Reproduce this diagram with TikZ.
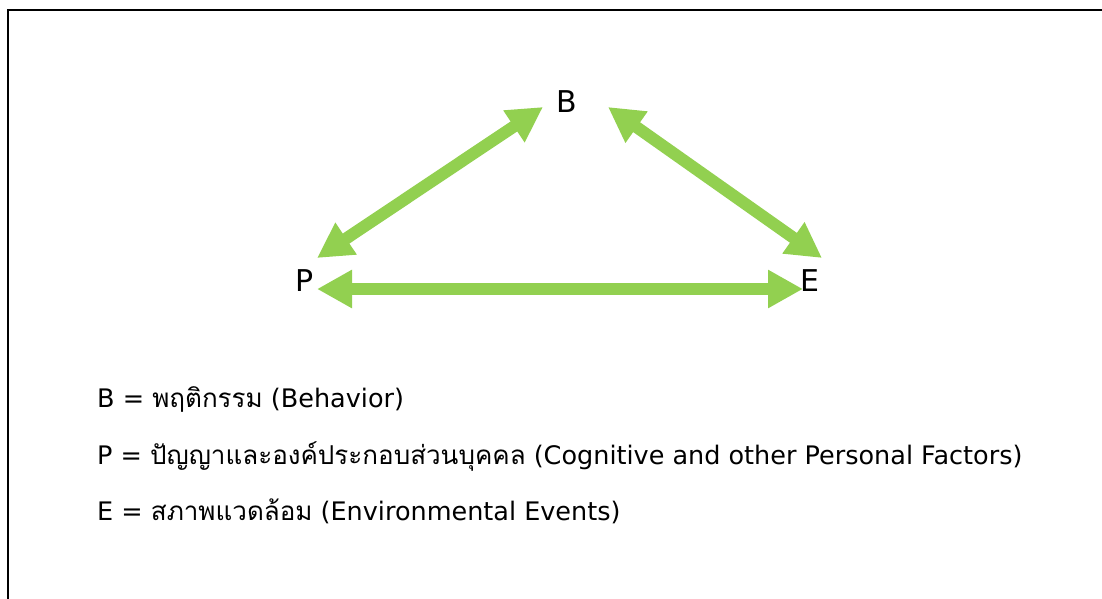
\documentclass[tikz,border=0pt]{standalone}
\usepackage{fontspec}
\setmainfont{DejaVu Sans}
\newfontfamily\thaifont[Script=Thai]{Loma}
\newcommand\thaitext[1]{{\thaifont\fontsize{26}{30}\selectfont #1}}
\usetikzlibrary{arrows.meta}
\definecolor{leaf}{HTML}{92D050}
\begin{document}
\begin{tikzpicture}[x=1pt,y=-1pt,
  biarrow/.style={draw=leaf, line width=12pt,
    {Triangle[length=35pt,width=36pt]}-{Triangle[length=35pt,width=36pt]}},
  corner/.style={font=\fontsize{30}{36}\selectfont, inner sep=0pt, anchor=base west},
  legend/.style={font=\fontsize{25.5}{30}\selectfont, inner sep=0pt, anchor=base west}]
  \useasboundingbox (0,0) rectangle (1102,599);
  % frame
  \draw[line width=2pt] (8,599) -- (8,10) -- (1102,10);
  % corner letters
  \node[corner] (B) at (556,113) {B};
  \node[corner] (P) at (295,291) {P};
  \node[corner] (E) at (800,291) {E};
  % arrow end points beside the letters
  \coordinate (pUp) at (317,258);
  \coordinate (bLeft) at (543,107);
  \coordinate (bRight) at (608,107);
  \coordinate (eUp) at (822,258);
  \coordinate (pSide) at (317,289);
  \coordinate (eSide) at (803,289);
  \draw[biarrow] (pUp) -- (bLeft);
  \draw[biarrow] (bRight) -- (eUp);
  \draw[biarrow] (pSide) -- (eSide);
  % legend
  \node[legend] (lb) at (97,407) {B = \thaitext{พฤติกรรม} (Behavior)};
  \node[legend] (lp) at (97,464) {P = \thaitext{ปัญญาและองค์ประกอบส่วนบุคคล} (Cognitive and other Personal Factors)};
  \node[legend] (le) at (97,520) {E = \thaitext{สภาพแวดล้อม} (Environmental Events)};
\end{tikzpicture}
\end{document}
